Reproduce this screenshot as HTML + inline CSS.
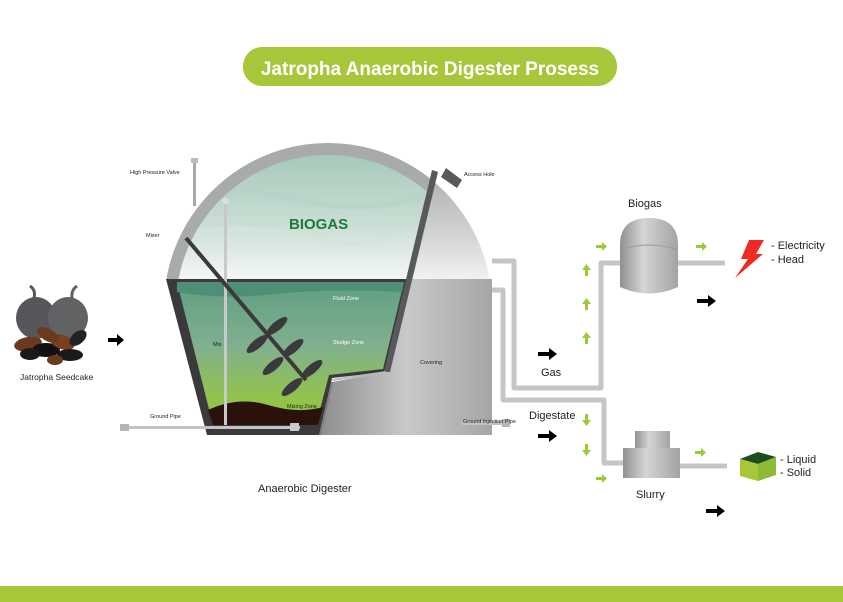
<!DOCTYPE html>
<html><head><meta charset="utf-8"><style>
html,body{margin:0;padding:0;background:#fff}
svg{display:block}
text{font-family:"Liberation Sans",sans-serif}
</style></head><body>
<svg width="843" height="602" viewBox="0 0 843 602" xmlns="http://www.w3.org/2000/svg">
<defs>
<linearGradient id="gas" x1="0" y1="0" x2="0" y2="1"><stop offset="0" stop-color="#9fc5b5"/><stop offset="0.6" stop-color="#c9ddd4"/><stop offset="1" stop-color="#f4f7f5"/></linearGradient>
<linearGradient id="liq" x1="0" y1="0" x2="0" y2="1"><stop offset="0" stop-color="#5f9e84"/><stop offset="0.45" stop-color="#80b08e"/><stop offset="0.8" stop-color="#93c24c"/><stop offset="1" stop-color="#8dc63f"/></linearGradient>
<linearGradient id="gray" x1="0" y1="0" x2="1" y2="0"><stop offset="0" stop-color="#8c8d8f"/><stop offset="0.5" stop-color="#c8c9cb"/><stop offset="1" stop-color="#a5a6a8"/></linearGradient>
<linearGradient id="grayTop" x1="0" y1="0" x2="0" y2="1"><stop offset="0" stop-color="#9a9b9d"/><stop offset="0.7" stop-color="#d4d5d6"/><stop offset="1" stop-color="#f2f2f2"/></linearGradient>
<linearGradient id="tank" x1="0" y1="0" x2="1" y2="0"><stop offset="0" stop-color="#8f9092"/><stop offset="0.4" stop-color="#d4d5d6"/><stop offset="1" stop-color="#a2a3a5"/></linearGradient>
<clipPath id="dome"><circle cx="328" cy="307" r="164"/></clipPath>
<clipPath id="idome"><circle cx="328" cy="307" r="152"/></clipPath>
</defs>

<rect x="243" y="47" width="374" height="39" rx="19" fill="#a8c63a"/>
<text x="430" y="75" text-anchor="middle" font-size="19" font-weight="bold" fill="#fff">Jatropha Anaerobic Digester Prosess</text>
<rect x="0" y="586" width="843" height="16" fill="#a8c63a"/>

<g>
<ellipse cx="36" cy="318" rx="20" ry="21" fill="#55575a"/>
<ellipse cx="68" cy="318" rx="20" ry="21" fill="#606264"/>
<path d="M34 298 q2-8 -4-12" stroke="#55575a" stroke-width="3" fill="none"/>
<path d="M72 298 q-1-8 5-12" stroke="#606264" stroke-width="3" fill="none"/>
<ellipse cx="28" cy="344" rx="14" ry="7" fill="#6b3a1e" transform="rotate(-10 28 344)"/>
<ellipse cx="46" cy="350" rx="14" ry="7" fill="#111"/>
<ellipse cx="62" cy="342" rx="13" ry="7" fill="#7a3f1f" transform="rotate(20 62 342)"/>
<ellipse cx="70" cy="355" rx="13" ry="6" fill="#1a1a1a"/>
<ellipse cx="48" cy="335" rx="12" ry="6" fill="#6b3a1e" transform="rotate(30 48 335)"/>
<ellipse cx="78" cy="338" rx="10" ry="6" fill="#222" transform="rotate(-40 78 338)"/>
<ellipse cx="55" cy="360" rx="8" ry="5" fill="#6b3a1e"/>
<ellipse cx="30" cy="354" rx="10" ry="6" fill="#1a1a1a"/>
</g>
<text x="20" y="380" font-size="8.5" fill="#222">Jatropha Seedcake</text>
<path d="M108 338h9v-4l7 6-7 6v-4h-9z" fill="#000"/>

<g clip-path="url(#dome)">
<rect x="380" y="140" width="120" height="140" fill="url(#grayTop)"/>
</g>
<path d="M406 279 L492 279 L492 435 L320 435 L332 382 L386 372 Z" fill="url(#gray)"/>
<g clip-path="url(#dome)">
<path d="M160 140 L439 140 L406 279 L160 279 Z" fill="#a9aaac"/>
</g>
<g clip-path="url(#idome)">
<path d="M160 140 L439 140 L406 279 L160 279 Z" fill="url(#gas)"/>
<path d="M180 200 q60-15 120 0 t130 -5" stroke="#b7d3c7" stroke-width="6" fill="none" opacity="0.7"/>
<path d="M180 235 q60-12 120 2 t120 -5" stroke="#d3e4dd" stroke-width="6" fill="none" opacity="0.7"/>
</g>
<path d="M441 177 L446 168 L462 180 L457 188 Z" fill="#58595b"/>
<path d="M166 279 L409 279 L386 372 L332 378 L320 435 L207 435 Z" fill="#3a3a3c"/>
<path d="M177 282 L404 282 L383 369 L329 375 L316 425 L213 425 Z" fill="url(#liq)"/>
<path d="M177 282 L404 282 L402 292 q-70 -4 -125 2 t-100 -2 Z" fill="#4e8f76"/>
<path d="M208 410 q30-14 60-5 t55 2 L318 425 L213 425 Z" fill="#2a120a"/>
<path d="M432 170 L438 172 L390 372 L384 372 Z" fill="#58595b"/>
<path d="M332 380 L386 372" stroke="#b9babc" stroke-width="2"/>
<path d="M332 382 L320 435" stroke="#7d7e80" stroke-width="2"/>
<rect x="193" y="160" width="3" height="46" fill="#a7a8aa"/>
<rect x="191" y="158" width="7" height="5" fill="#bcbdbf"/>
<rect x="224" y="200" width="3" height="225" fill="#c8c9cb"/>
<circle cx="225.5" cy="201" r="3" fill="#ddd"/>
<line x1="186" y1="238" x2="306" y2="380" stroke="#3a3a3c" stroke-width="4"/>
<g fill="#3a3a3c">
<ellipse cx="277" cy="326" rx="13" ry="4.5" transform="rotate(-40 277 326)"/>
<ellipse cx="257" cy="344" rx="13" ry="4.5" transform="rotate(-40 257 344)"/>
<ellipse cx="293" cy="348" rx="13" ry="4.5" transform="rotate(-40 293 348)"/>
<ellipse cx="273" cy="366" rx="13" ry="4.5" transform="rotate(-40 273 366)"/>
<ellipse cx="312" cy="369" rx="13" ry="4.5" transform="rotate(-40 312 369)"/>
<ellipse cx="292" cy="387" rx="13" ry="4.5" transform="rotate(-40 292 387)"/>
</g>
<rect x="120" y="426" width="180" height="3" fill="#c2c3c5"/>
<rect x="120" y="424" width="9" height="7" fill="#b4b5b7"/>
<rect x="290" y="423" width="9" height="8" fill="#c9cacc"/>
<rect x="462" y="421" width="48" height="4" fill="#c2c3c5"/>
<rect x="502" y="419" width="8" height="8" fill="#b4b5b7"/>

<g font-size="5.5" fill="#222">
<text x="130" y="174">High Pressure Valve</text>
<text x="146" y="237">Mixer</text>
<text x="213" y="346">Mix</text>
<text x="150" y="418">Ground Pipe</text>
<text x="464" y="176">Access Hole</text>
<text x="420" y="364">Covering</text>
<text x="463" y="423">Ground Injection Pipe</text>
<text x="287" y="408">Mixing Zone</text>
<text x="333" y="300" fill="#fff">Fluid Zone</text>
<text x="333" y="344" fill="#fff">Sludge Zone</text>
</g>
<text x="289" y="229" font-size="15" font-weight="bold" fill="#1e7a3a">BIOGAS</text>
<text x="258" y="492" font-size="11" fill="#222">Anaerobic Digester</text>

<g fill="none" stroke="#c4c5c7" stroke-width="5" stroke-linejoin="round">
<path d="M492 261 H514 V388 H601 V263 H622"/>
<path d="M492 290 H503 V400 H604 V463 H626"/>
<path d="M676 263 H725"/>
<path d="M680 466 H727"/>
</g>
<path d="M620 245 Q620 218 649 218 Q678 218 678 245 L678 287 Q649 300 620 287 Z" fill="url(#tank)"/>
<path d="M620 250 Q649 240 678 250" stroke="#9a9b9d" fill="none"/>
<text x="628" y="207" font-size="11" fill="#222">Biogas</text>
<rect x="635" y="431" width="35" height="18" fill="url(#tank)"/>
<rect x="623" y="448" width="57" height="30" fill="url(#tank)"/>
<text x="636" y="498" font-size="11" fill="#222">Slurry</text>

<g fill="#9cc93b">
<path d="M596 245h6v-3l5 4.5-5 4.5v-3h-6z"/>
<path d="M696 245h6v-3l5 4.5-5 4.5v-3h-6z"/>
<path d="M695 451h6v-3l5 4.5-5 4.5v-3h-6z"/>
<path d="M596 477h6v-3l5 4.5-5 4.5v-3h-6z"/>
<path d="M585 276v-6h-3l4.5-6 4.5 6h-3v6z"/>
<path d="M585 310v-6h-3l4.5-6 4.5 6h-3v6z"/>
<path d="M585 344v-6h-3l4.5-6 4.5 6h-3v6z"/>
<path d="M585 414v6h-3l4.5 6 4.5-6h-3v-6z"/>
<path d="M585 444v6h-3l4.5 6 4.5-6h-3v-6z"/>
</g>
<g fill="#000">
<path d="M538 352h11v-4l8 6-8 6v-4h-11z"/>
<path d="M538 434h11v-4l8 6-8 6v-4h-11z"/>
<path d="M697 299h11v-4l8 6-8 6v-4h-11z"/>
<path d="M706 509h11v-4l8 6-8 6v-4h-11z"/>
</g>
<text x="541" y="376" font-size="11" fill="#222">Gas</text>
<text x="529" y="419" font-size="11" fill="#222">Digestate</text>
<path d="M749 240 L764 240 L756 254 L763 254 L735 278 L748 259 L741 259 Z" fill="#ee2a24"/>
<text x="771" y="249" font-size="11" fill="#222">- Electricity</text>
<text x="771" y="263" font-size="11" fill="#222">- Head</text>
<path d="M740 459 L758 452 L776 457 L758 464 Z" fill="#1d4d1f"/>
<path d="M740 459 L758 464 L758 481 L740 476 Z" fill="#a8c63a"/>
<path d="M758 464 L776 457 L776 475 L758 481 Z" fill="#8dbb35"/>
<text x="780" y="463" font-size="11" fill="#222">- Liquid</text>
<text x="780" y="476" font-size="11" fill="#222">- Solid</text>
</svg>
</body></html>
